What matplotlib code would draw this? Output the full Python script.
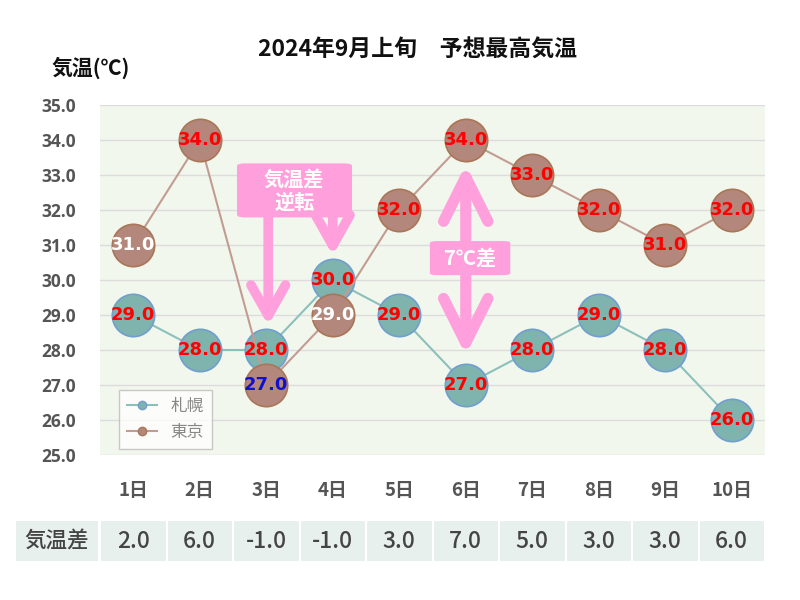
import matplotlib
matplotlib.use("Agg")
import matplotlib.pyplot as plt
from matplotlib.patches import FancyBboxPatch, FancyArrowPatch, Rectangle
from matplotlib.transforms import blended_transform_factory
from matplotlib.lines import Line2D

plt.rcParams['font.family'] = ['Noto Sans CJK JP', 'DejaVu Sans']

days = ["1日", "2日", "3日", "4日", "5日", "6日", "7日", "8日", "9日", "10日"]
sapporo = [29.0, 28.0, 28.0, 30.0, 29.0, 27.0, 28.0, 29.0, 28.0, 26.0]
tokyo = [31.0, 34.0, 27.0, 29.0, 32.0, 34.0, 33.0, 32.0, 31.0, 32.0]
diff = [2.0, 6.0, -1.0, -1.0, 3.0, 7.0, 5.0, 3.0, 3.0, 6.0]
sapporo_label_colors = ["red"] * 10
tokyo_label_colors = ["white", "red", "#1010d0", "white", "red", "red", "red", "red", "red", "red"]
yticks = [25.0, 26.0, 27.0, 28.0, 29.0, 30.0, 31.0, 32.0, 33.0, 34.0, 35.0]

fig = plt.figure(figsize=(8, 6), dpi=100)
ax = fig.add_axes([100/800, 1-455/600, 665/800, 350/600])
ax.set_facecolor("#f2f7ee")
for s in ax.spines.values():
    s.set_visible(False)
x = list(range(1, 11))
ax.set_xlim(0.5, 10.5)
ax.set_ylim(25, 35)
ax.set_yticks(yticks)
ax.set_yticklabels([f"{v:.1f}" for v in yticks], fontsize=12.5, fontweight="bold",
                   color="#555555", family=["Open Sans", "DejaVu Sans"])
ax.tick_params(axis="y", length=0, pad=17)
ax.set_xticks([])
ax.grid(axis="y", color="#dcdcdc", linewidth=1)
ax.set_axisbelow(True)

ax.plot(x, sapporo, color="#8cc0bb", linewidth=1.5, marker="o", markersize=30.5,
        markerfacecolor="#7fb3ae", markeredgecolor="#6f9fcf", markeredgewidth=1.2, zorder=3)
ax.plot(x, tokyo, color="#c29c92", linewidth=1.5, marker="o", markersize=30.5,
        markerfacecolor="#b4877c", markeredgecolor="#a97656", markeredgewidth=1.2, zorder=4)
for xi, v, c in zip(x, sapporo, sapporo_label_colors):
    ax.text(xi, v, f"{v:.1f}", ha="center", va="center", fontsize=13, fontweight="bold", color=c, zorder=5, family="DejaVu Sans")
for xi, v, c in zip(x, tokyo, tokyo_label_colors):
    ax.text(xi, v, f"{v:.1f}", ha="center", va="center", fontsize=13, fontweight="bold", color=c, zorder=6, family="DejaVu Sans")

pink = "#ffa0dc"
# box 1
box = FancyBboxPatch((2.58, 31.8), 1.69, 1.52, boxstyle="round,pad=0.02,rounding_size=0.12",
                     facecolor=pink, edgecolor="none", zorder=7, mutation_aspect=0.6)
ax.add_patch(box)
ax.text(3.42, 32.55, "気温差\n逆転", ha="center", va="center", fontsize=14.5, fontweight="bold",
        color="white", zorder=8, linespacing=1.1)
for (xa, y0, y1) in [(3.03, 31.8, 28.7), (4.0, 31.8, 30.7)]:
    ar = FancyArrowPatch((xa, y0), (xa, y1), arrowstyle="->,head_length=1.1,head_width=0.62",
                         mutation_scale=20, color=pink, linewidth=7, shrinkA=0, shrinkB=0,
                         zorder=7, capstyle="round", joinstyle="round")
    ax.add_patch(ar)
# double arrow
ar = FancyArrowPatch((6.0, 27.85), (6.0, 33.3), arrowstyle="<->,head_length=1.6,head_width=0.8",
                     mutation_scale=20, color=pink, linewidth=8, shrinkA=0, shrinkB=0,
                     zorder=7, capstyle="round", joinstyle="round")
ax.add_patch(ar)
box2 = FancyBboxPatch((5.48, 30.15), 1.17, 0.95, boxstyle="round,pad=0.02,rounding_size=0.1",
                      facecolor=pink, edgecolor="none", zorder=8, mutation_aspect=0.6)
ax.add_patch(box2)
ax.text(6.06, 30.62, "7℃差", ha="center", va="center", fontsize=14.5, fontweight="bold",
        color="white", zorder=9)

# legend
handles = [Line2D([0], [0], color="#8cc0bb", marker="o", markersize=6, markerfacecolor="#7fb3ae",
                  markeredgecolor="#6f9fcf", lw=1.5),
           Line2D([0], [0], color="#c29c92", marker="o", markersize=6, markerfacecolor="#b4877c",
                  markeredgecolor="#a97656", lw=1.5)]
leg = ax.legend(handles, ["札幌", "東京"], loc="upper left", bbox_to_anchor=(0.016, 0.21),
                fontsize=12, frameon=True, fancybox=False, edgecolor="#bbbbbb",
                handlelength=1.8, labelcolor="#888888", borderpad=0.5, labelspacing=0.5)
leg.get_frame().set_linewidth(1)
leg.set_zorder(10)

# title and y label
fig.text(417/800, 1-50/600, "2024年9月上旬　予想最高気温", ha="center", va="center",
         fontsize=16.5, fontweight="bold", color="#111111")
fig.text(91/800, 1-68/600, "気温(℃)", ha="center", va="center", fontsize=15,
         fontweight="bold", color="#111111")

# day labels and table
tr = blended_transform_factory(ax.transData, fig.transFigure)
for xi, d in zip(x, days):
    fig.text(xi, 1-490/600, d, transform=tr, ha="center", va="center", fontsize=13.5,
             fontweight="bold", color="#555555")
cell_color = "#e8f0ee"
y_bot = 1-562/600
h = 42/600
fig.patches.append(Rectangle((15/800, y_bot), 84/800, h, transform=fig.transFigure,
                             facecolor=cell_color, edgecolor="white", linewidth=1.5))
fig.text(57/800, y_bot+h/2, "気温差", ha="center", va="center", fontsize=15.5,
         fontweight="medium", color="#444444")
for xi, v in zip(x, diff):
    fig.patches.append(Rectangle((xi-0.5, y_bot), 1.0, h, transform=tr,
                                 facecolor=cell_color, edgecolor="white", linewidth=1.5))
    fig.text(xi, y_bot+h/2, f"{v:.1f}", transform=tr, ha="center", va="center", fontsize=16.5,
             fontweight="medium", color="#444444")

fig.savefig("out.png", dpi=100)
